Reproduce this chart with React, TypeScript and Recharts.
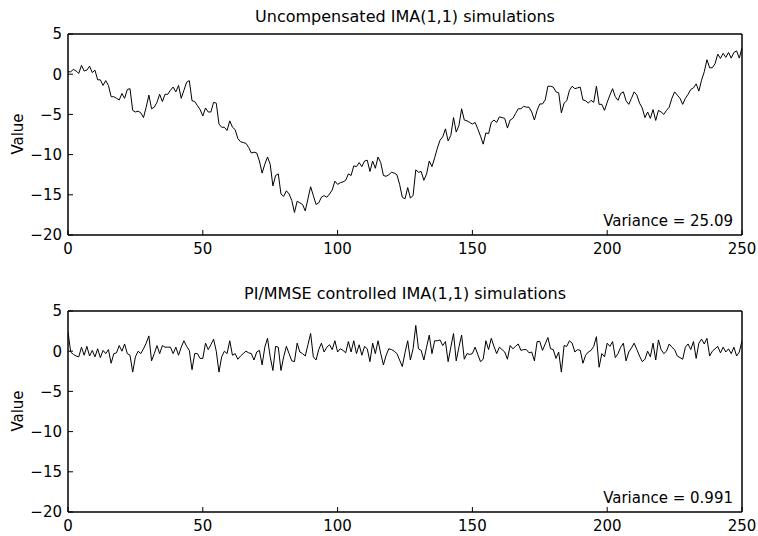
import { Line, LineChart, XAxis, YAxis } from "recharts";

// sample index runs 0..250 in both panels
const X_TICKS = [0, 50, 100, 150, 200, 250];
const Y_TICKS = [-20, -15, -10, -5, 0, 5];

const uncompensated = [
  0.3, 0.3, 0.6, 0.4, 0.1, 1.1, 0.4, 0.5, 1.0, 0.2,
  0.5, -0.7, -0.7, -1.4, -0.8, -1.4, -2.8, -2.8, -3.0, -3.2,
  -2.4, -3.0, -1.9, -1.8, -4.5, -4.7, -4.6, -4.8, -5.4, -4.1,
  -2.6, -4.3, -4.1, -3.5, -2.5, -3.4, -2.5, -2.5, -2.0, -1.6,
  -2.2, -1.4, -3.0, -2.0, -1.0, -0.8, -3.3, -3.4, -3.9, -4.4,
  -5.2, -4.2, -4.7, -4.7, -3.5, -3.6, -6.2, -6.6, -6.6, -7.0,
  -5.8, -6.6, -6.9, -8.0, -8.4, -8.5, -8.6, -9.1, -9.8, -9.7,
  -9.8, -10.8, -12.3, -11.2, -10.3, -11.2, -13.9, -12.6, -12.4, -14.9,
  -15.2, -14.5, -14.9, -15.7, -17.2, -15.8, -16.0, -16.2, -17.0, -15.5,
  -14.0, -15.1, -16.2, -16.0, -15.3, -15.1, -15.3, -14.9, -14.4, -13.3,
  -13.7, -13.5, -13.4, -13.2, -12.4, -12.6, -11.4, -11.5, -11.0, -11.5,
  -10.8, -10.7, -12.1, -10.8, -11.7, -10.3, -11.0, -12.6, -12.7, -12.5,
  -12.2, -12.3, -12.5, -13.7, -15.3, -15.5, -14.1, -15.4, -15.1, -11.9,
  -12.2, -12.1, -13.2, -12.4, -10.8, -11.5, -10.4, -9.2, -8.2, -7.8,
  -6.8, -8.3, -7.6, -5.4, -7.2, -6.4, -4.3, -5.7, -5.8, -6.0,
  -6.2, -6.0, -6.8, -7.7, -8.7, -7.3, -7.4, -6.0, -5.7, -6.0,
  -5.3, -5.4, -5.5, -6.7, -5.7, -5.5, -4.9, -4.3, -4.3, -4.0,
  -4.1, -4.1, -4.7, -5.7, -4.5, -3.7, -3.7, -3.2, -1.5, -1.5,
  -1.6, -2.2, -2.3, -4.8, -3.6, -3.3, -2.0, -1.5, -1.8, -1.7,
  -1.6, -3.2, -3.3, -3.6, -3.25, -3.5, -1.5, -3.75, -3.75, -4.5,
  -3.5, -2.6, -1.8, -2.8, -3.25, -2.4, -2.2, -3.3, -3.75, -3.0,
  -2.2, -2.6, -3.6, -4.2, -5.4, -4.7, -5.5, -4.4, -5.75, -4.5,
  -4.7, -5.0, -4.5, -4.1, -3.0, -2.2, -2.6, -3.0, -3.75, -3.0,
  -2.5, -1.9, -1.7, -1.2, -2.1, -0.75, 0.3, 1.8, 0.8, 0.8,
  1.3, 2.5, 1.96, 2.6, 2.1, 2.7, 2.0, 2.7, 2.9, 2.0,
  3.3,
];

const controlled = [
  2.4, -0.1, -0.4, -0.6, -0.7, 0.5, -0.5, 0.6, -0.6, 0.1,
  -0.7, 0.3, -0.8, 0.1, -0.3, 0.2, -1.5, -0.3, -0.2, 0.7,
  0.0, 0.9, -0.3, -0.5, -2.6, -0.7, 0.0, -0.3, 0.3, 1.0,
  1.9, -1.2, -0.3, 0.7, -0.3, 0.7, 0.5, 0.5, 0.5, -0.3,
  0.5, -0.5, 0.5, 1.3, 0.6, 0.1, -2.3, -0.3, -0.3, -0.9,
  -0.9, 1.0, 0.2, 0.8, 1.5, 0.0, -2.6, -0.7, 0.0, -0.3,
  1.3, -0.5, -0.3, -1.0, -0.6, -0.3, 0.0, -0.2, -0.3, -1.1,
  -0.1, 0.1, -1.7, 0.5, 1.6, -0.7, -2.4, 0.6, 0.5, -2.4,
  -0.7, 0.6, -0.3, -1.2, -1.3, 1.0, -0.1, -0.3, -0.6, 0.8,
  2.2, -0.7, -1.1, 0.2, 1.0, -0.1, 0.5, 0.8, 0.2, 1.3,
  -0.1, 0.3, 0.1, -0.2, 1.2, -0.1, 1.3, -0.3, 0.8, -0.5,
  0.6, 0.3, -1.3, 1.0, -0.3, 1.3, -0.3, -1.7, -0.5, 0.3,
  0.2, 0.0, -0.3, -1.1, -1.9, -0.2, 1.3, -1.1, 0.3, 3.2,
  0.3, 0.1, -1.1, 0.5, 2.0, -0.3, 1.3, 1.3, 1.4, 0.7,
  1.2, -1.3, 0.5, 2.2, -1.2, 0.5, 2.0, -1.0, -0.3, -0.4,
  -0.3, 0.5, -0.4, -1.3, -1.0, 1.3, 0.2, 1.6, 0.6, -0.3,
  0.5, 0.2, -0.1, -1.0, 0.7, 0.3, 0.6, 0.9, 0.1, 0.2,
  0.2, -0.2, -0.1, -1.2, 1.2, 1.2, 0.1, 0.9, 1.7, 0.3,
  0.2, -0.9, -0.1, -2.6, 0.7, 0.6, 1.3, 1.0, -0.1, 0.2,
  0.1, -1.5, -0.5, -0.1, 0.1, 0.6, 1.8, -2.0, -0.3, -0.7,
  1.0, 0.6, 1.2, -0.8, -0.3, 0.5, 1.0, -1.2, -0.1, 0.4,
  1.0, 0.2, -0.6, -1.3, -1.0, 0.0, -0.7, 1.0, -1.1, 1.4,
  0.2, -0.3, 0.0, 0.9, 0.5, 0.2, -0.6, -0.8, -1.0, 0.5,
  0.9, 0.2, 1.2, -0.9, 1.0, 1.5, 0.9, 1.6, -0.6, 0.0,
  0.3, 0.6, -0.2, 0.5, -0.1, 0.3, -0.3, 0.5, -0.6, -0.1,
  1.3,
];

const FONT = "'DejaVu Sans', 'Liberation Sans', Arial, sans-serif";

// matlab-style long minus on negative ticks
const fmt = (v: number) => (v < 0 ? `\u2212${-v}` : `${v}`);

function Panel({ values, title, variance, top }: { values: number[]; title: string; variance: string; top: number }) {
  const data = values.map((v, i) => ({ t: i, v }));
  const tick = { fontSize: 15, fill: "#000", fontFamily: FONT };
  const axisLine = { stroke: "#000", strokeWidth: 1.5 };
  const tickLine = { stroke: "#000", strokeWidth: 1 };

  return (
    <div style={{ position: "absolute", left: 0, top, width: 758, height: 268 }}>
      <div
        style={{
          position: "absolute", left: 68, width: 674, top: 9, textAlign: "center",
          fontSize: 16, lineHeight: "16px", fontFamily: FONT, color: "#000",
        }}
      >
        {title}
      </div>
      <div
        style={{
          position: "absolute", left: 18, top: 134, transform: "translate(-50%, -50%) rotate(-90deg)",
          fontSize: 15, lineHeight: "15px", fontFamily: FONT, color: "#000", whiteSpace: "nowrap",
        }}
      >
        Value
      </div>
      {/* box axes need a size of at least 1px or recharts skips them */}
      <LineChart width={758} height={268} data={data} margin={{ top: 33, right: 15, bottom: 0, left: 0 }}>
        <XAxis
          xAxisId="b" dataKey="t" type="number" domain={[0, 250]} ticks={X_TICKS} allowDataOverflow
          height={33} tickSize={-5} tickMargin={13} tick={tick} axisLine={axisLine} tickLine={tickLine}
        />
        <XAxis
          xAxisId="t" orientation="top" dataKey="t" type="number" domain={[0, 250]} ticks={X_TICKS} allowDataOverflow
          height={1} tickSize={-5} tick={false} axisLine={axisLine} tickLine={tickLine}
        />
        <YAxis
          yAxisId="l" type="number" domain={[-20, 5]} ticks={Y_TICKS} allowDataOverflow
          width={68} tickSize={-5} tickMargin={11} tick={tick} tickFormatter={fmt}
          axisLine={axisLine} tickLine={tickLine}
        />
        <YAxis
          yAxisId="r" orientation="right" type="number" domain={[-20, 5]} ticks={Y_TICKS} allowDataOverflow
          width={1} tickSize={-5} tick={false} axisLine={axisLine} tickLine={tickLine}
        />
        <Line
          xAxisId="t" yAxisId="r" dataKey="v" stroke="none" dot={false} activeDot={false}
          legendType="none" isAnimationActive={false}
        />
        <Line
          xAxisId="b" yAxisId="l" dataKey="v" type="linear" stroke="#000" strokeWidth={1}
          dot={false} isAnimationActive={false}
        />
      </LineChart>
      <div
        style={{
          position: "absolute", right: 25, top: 214, fontSize: 15, lineHeight: "15px",
          fontFamily: FONT, color: "#000", whiteSpace: "nowrap",
        }}
      >
        {variance}
      </div>
    </div>
  );
}

export default function App() {
  return (
    <div style={{ position: "absolute", left: 0, top: 0, width: 758, height: 536, background: "#fff" }}>
      <Panel values={uncompensated} title="Uncompensated IMA(1,1) simulations" variance="Variance = 25.09" top={0} />
      <Panel values={controlled} title="PI/MMSE controlled IMA(1,1) simulations" variance="Variance = 0.991" top={277} />
    </div>
  );
}
